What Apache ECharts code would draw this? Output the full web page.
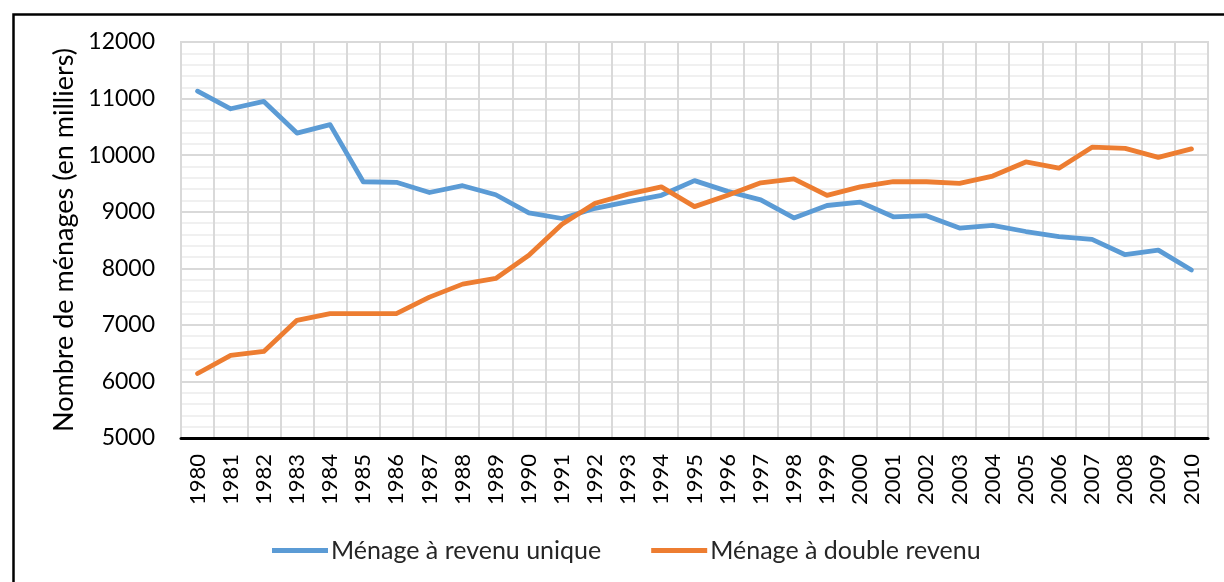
<!DOCTYPE html>
<html><head><meta charset="utf-8">
<script src="https://cdn.jsdelivr.net/npm/echarts@6/dist/echarts.min.js"></script>
<style>html,body{margin:0;padding:0;background:#fff}#c{width:1224px;height:582px}</style>
</head><body><div id="c"></div>
<script>
const years = ['1980','1981','1982','1983','1984','1985','1986','1987','1988','1989','1990','1991','1992','1993','1994','1995','1996','1997','1998','1999','2000','2001','2002','2003','2004','2005','2006','2007','2008','2009','2010'];
const single = [11130,10820,10950,10390,10540,9530,9520,9340,9460,9300,8980,8880,9060,9180,9290,9550,9360,9210,8890,9110,9170,8910,8930,8710,8760,8650,8560,8510,8240,8320,7970];
const dual = [6140,6460,6530,7080,7200,7200,7200,7490,7720,7820,8230,8780,9150,9310,9440,9090,9290,9510,9580,9290,9440,9530,9530,9500,9630,9880,9770,10140,10120,9960,10110];
const yTicks = {min:5000, max:12000, interval:1000};
const names = ['Ménage à revenu unique','Ménage à double revenu'];
const yName = 'Nombre de ménages (en milliers)';

const font = 'Lato, "Open Sans", sans-serif';
const chart = echarts.init(document.getElementById('c'), null, {renderer:'canvas'});
chart.setOption({
  animation:false,
  backgroundColor:'#fff',
  grid:{left:181,right:16,top:42,bottom:144,show:true,borderColor:'#d9d9d9',borderWidth:2},
  legend:{
    bottom:14,left:267,itemWidth:56,itemHeight:5,itemGap:50,
    icon:'rect',
    textStyle:{fontFamily:font,fontSize:25,color:'#262626',padding:[0,0,0,-2]},
    data:names
  },
  xAxis:{
    type:'category',data:years,boundaryGap:true,
    axisLine:{show:true,lineStyle:{color:'#000',width:3}},
    axisTick:{show:false},
    axisLabel:{rotate:90,fontFamily:font,fontSize:22,color:'#000',margin:16,interval:0},
    splitLine:{show:true,interval:0,lineStyle:{color:'#d9d9d9',width:2}}
  },
  yAxis:{
    type:'value',min:yTicks.min,max:yTicks.max,interval:yTicks.interval,
    name:yName,nameLocation:'middle',nameGap:96,
    nameTextStyle:{fontFamily:font,fontSize:27,color:'#000'},
    axisLine:{show:false},axisTick:{show:false},
    axisLabel:{fontFamily:font,fontSize:23,color:'#000',margin:26,formatter:v=>String(v)},
    splitLine:{show:true,lineStyle:{color:'#d9d9d9',width:2}},
    minorTick:{show:false,splitNumber:5},
    minorSplitLine:{show:true,lineStyle:{color:'#f0f0f0',width:2}}
  },
  series:[
    {name:names[0],type:'line',data:single,symbol:'none',lineStyle:{width:4.8,color:'#5B9BD5',cap:'round',join:'round'},itemStyle:{color:'#5B9BD5'}},
    {name:names[1],type:'line',data:dual,symbol:'none',lineStyle:{width:4.8,color:'#ED7D31',cap:'round',join:'round'},itemStyle:{color:'#ED7D31'}}
  ],
  graphic:[{type:'rect',left:11,top:12,shape:{width:1222,height:580},style:{fill:null,stroke:'#000',lineWidth:2.5},silent:true}]
});
</script></body></html>
